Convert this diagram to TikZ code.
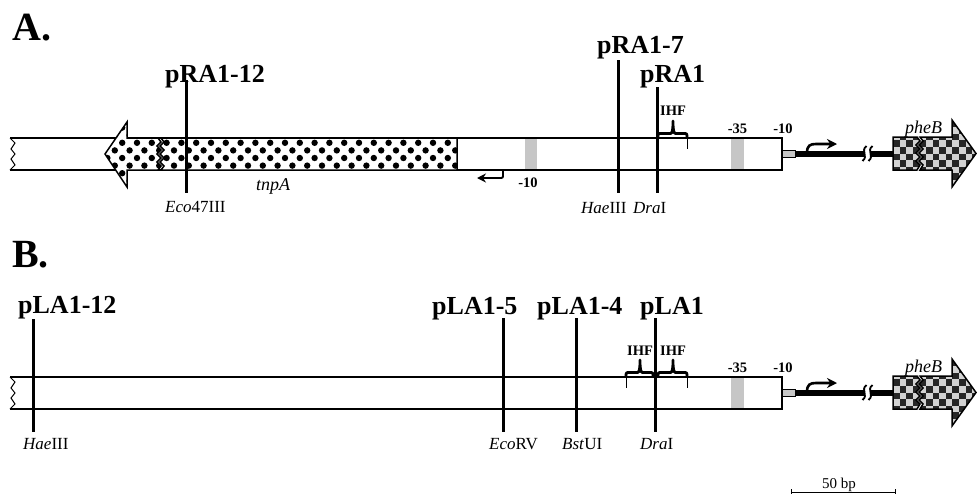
\documentclass[tikz,border=0pt]{standalone}
\usepackage{fontspec}
\setmainfont{Liberation Serif}
\usetikzlibrary{arrows.meta}
\newcommand{\ihfbrace}[4]{% left x, mid x, right x, base y
  \draw[ihfb] (#1,#4) .. controls (#1,#4-4.5) .. (#1+3.5,#4-4.5) -- (#2-2.5,#4-4.5)
     .. controls (#2-0.5,#4-4.5) and (#2,#4-9) .. (#2,#4-17)
     .. controls (#2,#4-9) and (#2+0.5,#4-4.5) .. (#2+2.5,#4-4.5) -- (#3-3.5,#4-4.5)
     .. controls (#3,#4-4.5) .. (#3,#4);
}
\newcommand{\mapstrand}[1]{%
  % grey -35 box
  \fill[gray!45] (731,138) rectangle (744,170);
  % main white box
  \draw[dnabox] (10,138) -- (782,138) -- (782,170) -- (10,170);
  \draw[line width=1pt] (10,138) -- (15,143) -- (11,149) -- (15,154) -- (11,159) -- (15,165) -- (10,170);
  \node[tinylab] (m35#1) at (737.5,133) {-35};
  \node[tinylab] (m10#1) at (783,133) {-10};
  % -10 grey stub and thick DNA
  \fill[gray!45] (782,150.5) rectangle (795,157);
  \draw[line width=0.7pt] (782,150.5) rectangle (795,157);
  \coordinate (d1#1) at (795,153.7);
  \coordinate (d2#1) at (864,153.7);
  \coordinate (d3#1) at (870,153.7);
  \coordinate (d4#1) at (893,153.7);
  \draw[thickdna] (d1#1) -- (d2#1);
  \draw[thickdna] (d3#1) -- (d4#1);
  \draw[brk] (866.5,146) .. controls (860,151) and (869,156) .. (862.5,161);
  \draw[brk] (872.5,146) .. controls (866,151) and (875,156) .. (868.5,161);
  % promoter arrow
  \draw[promo] (807,153) .. controls (807,145.5) and (810,144) .. (816,144) -- (837,144);
  % pheB arrow
  \begin{scope}
    \clip (893,137) -- (917,137) -- (920,141) -- (916,145) -- (920,149) -- (916,153) -- (920,157) -- (916,161) -- (920,165) -- (917,170) -- (893,170) -- cycle
          (920,137) -- (952,137) -- (952,120) -- (976,153.5) -- (952,187) -- (952,170) -- (920,170) -- (923,165) -- (919,161) -- (923,157) -- (919,153) -- (923,149) -- (919,145) -- (923,141) -- cycle;
    \fill[gray!35] (890,115) rectangle (980,192);
    \foreach \i in {0,...,13} {\foreach \j in {0,...,11} {
      \pgfmathtruncatemacro{\cpar}{\i+\j}
      \ifodd\cpar\relax\else
        \fill[black!85] (893+6.6*\i,114+6.6*\j) rectangle (899.6+6.6*\i,120.6+6.6*\j);
      \fi
    }}
  \end{scope}
  \draw[dnabox] (893,137) -- (917,137) -- (920,141) -- (916,145) -- (920,149) -- (916,153) -- (920,157) -- (916,161) -- (920,165) -- (917,170) -- (893,170) -- cycle;
  \draw[dnabox] (920,137) -- (952,137) -- (952,120) -- (976,153.5) -- (952,187) -- (952,170) -- (920,170) -- (923,165) -- (919,161) -- (923,157) -- (919,153) -- (923,149) -- (919,145) -- (923,141) -- cycle;
  \node[gene, anchor=base west] (pheB#1) at (905,133) {pheB};
}
\begin{document}
\begin{tikzpicture}[x=1pt,y=-1pt,
  panel/.style={font=\fontsize{40}{44}\selectfont\bfseries, anchor=base west, inner sep=0pt},
  plab/.style={font=\fontsize{26}{28}\selectfont\bfseries, anchor=base west, inner sep=0pt},
  enz/.style={font=\fontsize{17}{20}\selectfont, anchor=base west, inner sep=0pt},
  tinylab/.style={font=\fontsize{14.5}{16}\selectfont\bfseries, anchor=base, inner sep=0pt},
  gene/.style={font=\fontsize{18}{20}\selectfont\itshape, inner sep=0pt},
  siteline/.style={line width=3pt},
  dnabox/.style={line width=1.5pt},
  thickdna/.style={line width=6pt},
  promo/.style={line width=2.6pt, -{Stealth[length=10pt,width=10pt]}},
  ihfb/.style={line width=2.8pt, line join=round},
  brk/.style={line width=1.8pt},
]
\useasboundingbox (0,0) rectangle (977,493);
\fill[white] (0,0) rectangle (977,493);

% ===================== Panel A =====================
\node[panel] (pA) at (12,40) {A.};
\fill[gray!45] (525,138) rectangle (537,170);
\mapstrand{A}

% tnpA
\begin{scope}
  \clip (105,154) -- (127,122) -- (127,138) -- (158,138) -- (161,142) -- (157,146) -- (161,150) -- (157,154) -- (161,158) -- (157,162) -- (161,166) -- (158,170) -- (127,170) -- (127,187) -- cycle
        (161,138) -- (457,138) -- (457,170) -- (161,170) -- (164,166) -- (160,162) -- (164,158) -- (160,154) -- (164,150) -- (160,146) -- (164,142) -- cycle;
  \fill[white] (100,115) rectangle (460,195);
  \foreach \r in {0,...,9} {
    \pgfmathsetmacro{\yy}{120+7.6*\r}
    \pgfmathsetmacro{\xo}{mod(\r,2)*7.4}
    \foreach \c in {0,...,25} {
      \fill (100+\xo+14.8*\c,\yy) circle (3.2pt);
    }
  }
\end{scope}
\draw[dnabox] (105,154) -- (127,122) -- (127,138) -- (158,138) -- (161,142) -- (157,146) -- (161,150) -- (157,154) -- (161,158) -- (157,162) -- (161,166) -- (158,170) -- (127,170) -- (127,187) -- cycle;
\draw[dnabox] (161,138) -- (457,138) -- (457,170) -- (161,170) -- (164,166) -- (160,162) -- (164,158) -- (160,154) -- (164,150) -- (160,146) -- (164,142) -- cycle;
\node[gene, anchor=base] (tnpA) at (273,190) {tnpA};

% reverse promoter
\draw[line width=1.9pt, -{Stealth[length=9pt,width=9pt]}] (503,170) -- (503,174.5) .. controls (503,178) .. (499,178) -- (477,178);
\node[tinylab] (rm10) at (528,187) {-10};

% sites
\coordinate (a1t) at (186,80);  \coordinate (a1b) at (186,193);
\coordinate (a2t) at (618,60);  \coordinate (a2b) at (618,193);
\coordinate (a3t) at (657,87);  \coordinate (a3b) at (657,193);
\draw[siteline] (a1t) -- (a1b);
\draw[siteline] (a2t) -- (a2b);
\draw[siteline] (a3t) -- (a3b);
\node[plab] (pRA12) at (165,82) {pRA1-12};
\node[plab] (pRA7) at (597,53) {pRA1-7};
\node[plab] (pRA1) at (640,82) {pRA1};
\node[enz] (eco47) at (165,212) {\textit{Eco}47III};
\node[enz] (haeA) at (581,213) {\textit{Hae}III};
\node[enz] (draA) at (633,213) {\textit{Dra}I};

% IHF
\ihfbrace{658}{673}{687}{138}
\draw[line width=0.9pt] (687,138) -- (687,149);
\node[tinylab] (ihfA) at (673,115) {IHF};

% ===================== Panel B =====================
\node[panel] (pB) at (12,267) {B.};
\begin{scope}[shift={(0,239)}]
  \mapstrand{B}
\end{scope}

\coordinate (b1t) at (33,319);  \coordinate (b1b) at (33,432);
\coordinate (b2t) at (503,318); \coordinate (b2b) at (503,432);
\coordinate (b3t) at (576,318); \coordinate (b3b) at (576,432);
\coordinate (b4t) at (655,318); \coordinate (b4b) at (655,432);
\draw[siteline] (b1t) -- (b1b);
\draw[siteline] (b2t) -- (b2b);
\draw[siteline] (b3t) -- (b3b);
\draw[siteline] (b4t) -- (b4b);
\node[plab] (pLA12) at (18,313) {pLA1-12};
\node[plab] (pLA5) at (432,314) {pLA1-5};
\node[plab] (pLA4) at (537,314) {pLA1-4};
\node[plab] (pLA1) at (640,314) {pLA1};
\node[enz] (haeB) at (23,449) {\textit{Hae}III};
\node[enz] (ecorv) at (489,449) {\textit{Eco}RV};
\node[enz] (bstui) at (562,449) {\textit{Bst}UI};
\node[enz] (draB) at (640,449) {\textit{Dra}I};

\ihfbrace{626}{640}{653}{377}
\ihfbrace{658}{673}{687}{377}
\draw[line width=0.9pt] (626,377) -- (626,388);
\draw[line width=0.9pt] (687,377) -- (687,388);
\node[tinylab] (ihfB1) at (640,355) {IHF};
\node[tinylab] (ihfB2) at (673,355) {IHF};

% scale bar
\coordinate (sb1) at (791,492);
\coordinate (sb2) at (895,492);
\draw[line width=0.8pt] (sb1) -- (sb2);
\draw[line width=0.8pt] (791,489) -- (791,495);
\draw[line width=0.8pt] (895,489) -- (895,495);
\node[font=\fontsize{15}{17}\selectfont, anchor=base west, inner sep=0pt] (bp) at (822,488) {50 bp};
\end{tikzpicture}
\end{document}
